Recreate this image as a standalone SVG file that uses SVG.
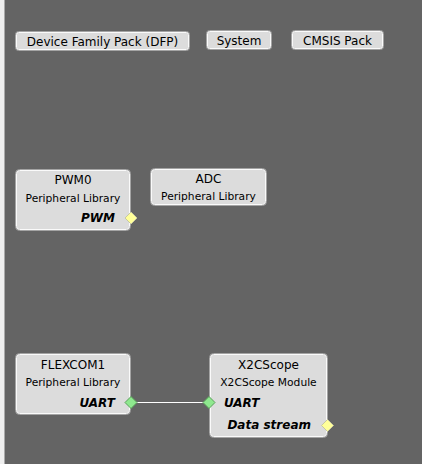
<svg xmlns="http://www.w3.org/2000/svg" width="422" height="464" viewBox="0 0 422 464">
<style>
.box{fill:#dcdcdc;stroke:#fafafa;stroke-width:1}
.edge{fill:none;stroke:#a4a4a4;stroke-width:1}
.t{font-family:"DejaVu Sans",Verdana,sans-serif;fill:#000}
.title{font-size:12px;text-anchor:middle}
.sub{font-size:10.7px;text-anchor:middle}
.port{font-size:12px;font-weight:bold;font-style:italic}
.btn{font-size:12px;text-anchor:middle}
.yel{fill:#ffff99;stroke:#c8c8a0;stroke-width:1}
.grn{fill:#8ee88e;stroke:#5aa05a;stroke-width:1}
.wire{stroke:#ffffff;stroke-width:1.2;fill:none}
</style>
<rect x="0" y="0" width="422" height="464" fill="#646464"/>
<rect x="0" y="0" width="4.5" height="464" fill="#efefef"/>

<g id="dfp">
<rect x="15.5" y="31.5" width="174" height="19" rx="3" class="edge"/>
<rect x="16.5" y="32.5" width="172" height="17" rx="2" class="box"/>
<text x="102.5" y="46" class="t btn">Device Family Pack (DFP)</text>
</g>
<g id="system">
<rect x="206.5" y="30.5" width="65" height="19" rx="3" class="edge"/>
<rect x="207.5" y="31.5" width="63" height="17" rx="2" class="box"/>
<text x="239" y="45" class="t btn">System</text>
</g>
<g id="cmsis">
<rect x="291.5" y="30.5" width="92" height="19" rx="3" class="edge"/>
<rect x="292.5" y="31.5" width="90" height="17" rx="2" class="box"/>
<text x="337.5" y="45" class="t btn">CMSIS Pack</text>
</g>

<g id="pwm0">
<rect x="15.5" y="169.5" width="115" height="61" rx="4" class="edge"/>
<rect x="16.5" y="170.5" width="113" height="59" rx="3" class="box"/>
<text x="73" y="184" class="t title">PWM0</text>
<text x="73" y="201.5" class="t sub">Peripheral Library</text>
<text x="115" y="222" class="t port" text-anchor="end">PWM</text>
<polygon points="131,212 137,218 131,224 125,218" class="yel"/>
</g>

<g id="adc">
<rect x="150.5" y="168.5" width="116" height="37" rx="4" class="edge"/>
<rect x="151.5" y="169.5" width="114" height="35" rx="3" class="box"/>
<text x="208.5" y="183" class="t title">ADC</text>
<text x="208.5" y="200" class="t sub">Peripheral Library</text>
</g>

<g id="connectors">
<line x1="131" y1="402.5" x2="209" y2="402.5" class="wire"/>
</g>

<g id="flexcom1">
<rect x="15.5" y="353.5" width="115" height="61" rx="4" class="edge"/>
<rect x="16.5" y="354.5" width="113" height="59" rx="3" class="box"/>
<text x="73" y="368.5" class="t title">FLEXCOM1</text>
<text x="73" y="386" class="t sub">Peripheral Library</text>
<text x="115" y="406.5" class="t port" text-anchor="end">UART</text>
<polygon points="131,396.5 137,402.5 131,408.5 125,402.5" class="grn"/>
</g>

<g id="x2cscope">
<rect x="209.5" y="353.5" width="118" height="84" rx="4" class="edge"/>
<rect x="210.5" y="354.5" width="116" height="82" rx="3" class="box"/>
<text x="268.5" y="368.5" class="t title">X2CScope</text>
<text x="268.5" y="386" class="t sub">X2CScope Module</text>
<text x="224" y="406.5" class="t port">UART</text>
<polygon points="209,396.5 215,402.5 209,408.5 203,402.5" class="grn"/>
<text x="311" y="429" class="t port" text-anchor="end">Data stream</text>
<polygon points="327.5,419.5 333.5,425.5 327.5,431.5 321.5,425.5" class="yel"/>
</g>
</svg>
